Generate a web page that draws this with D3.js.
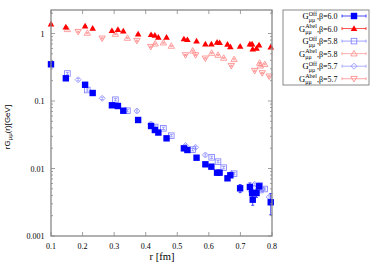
<!DOCTYPE html>
<html>
<head>
<meta charset="utf-8">
<script src="https://cdn.jsdelivr.net/npm/d3@7"></script>
<style>
  body { margin: 0; background: #fff; }
  svg text { font-family: "Liberation Serif", "DejaVu Serif", serif; }
</style>
</head>
<body>
<div id="chart"></div>
<script>
// beta = 6.0
const r60 = [0.1, 0.147, 0.208, 0.232, 0.293, 0.312, 0.329, 0.376, 0.417, 0.429, 0.440, 0.466,
  0.521, 0.532, 0.561, 0.589, 0.608, 0.626, 0.634, 0.659, 0.668, 0.699, 0.730, 0.737, 0.739,
  0.751, 0.759, 0.796];
const off60 = [0.350, 0.217, 0.174, 0.1314, 0.0864, 0.0843, 0.0718, 0.0523, 0.0426, 0.0372, 0.0341, 0.0280,
  0.0199, 0.0188, 0.01445, 0.01154, 0.01064, 0.00867, 0.00867, 0.00716, 0.00794, 0.00509, 0.00532, 0.00434, 0.00345,
  0.00434, 0.00545, 0.00316];
const offErr60 = [0.004, 0.003, 0.002, 0.0015, 0.001, 0.001, 0.0008, 0.0006, 0.0005, 0.0005, 0.0004, 0.0004,
  0.0003, 0.0003, 0.0003, 0.0003, 0.0003, 0.0003, 0.0003, 0.0003, 0.0003, 0.0007, 0.0008, 0.0006, 0.0006,
  0.0006, 0.0005, 0.0011];
const abel60 = [1.383, 1.248, 1.291, 1.194, 1.10, 1.14, 1.089, 0.983, 0.960, 0.940, 0.878, 0.878,
  0.83, 0.809, 0.774, 0.699, 0.699, 0.741, 0.731, 0.692, 0.637, 0.646, 0.699, 0.699, 0.589,
  0.604, 0.675, 0.631];

// beta = 5.8
const r58 = [0.152, 0.215, 0.304, 0.342, 0.430, 0.456, 0.481, 0.549, 0.609, 0.629, 0.647, 0.680, 0.761, 0.763, 0.777];
const off58 = [0.2555, 0.1455, 0.1045, 0.0718, 0.0412, 0.0394, 0.0306, 0.0190, 0.01466, 0.01262, 0.01028, 0.00837, 0.0056, 0.0048, 0.00497];
const abel58 = [1.154, 1.017, 0.983, 0.858, 0.706, 0.731, 0.653, 0.556, 0.514, 0.480, 0.434, 0.415, 0.366, 0.333, 0.350];

// beta = 5.7
const r57 = [0.186, 0.262, 0.372, 0.416, 0.526, 0.558, 0.589, 0.671, 0.745, 0.769, 0.791];
const off57 = [0.207, 0.1096, 0.0711, 0.0456, 0.0219, 0.0206, 0.01585, 0.00843, 0.00583, 0.00497, 0.00378];
const abel57 = [1.063, 0.849, 0.782, 0.637, 0.480, 0.480, 0.429, 0.333, 0.281, 0.260, 0.232];

const xTicks = [0.1, 0.2, 0.3, 0.4, 0.5, 0.6, 0.7, 0.8];
const yTicks = [0.001, 0.01, 0.1, 1];
const yTickLabels = ["0.001", "0.01", "0.1", "1"];

const legendNames = ["Off", "Abel", "Off", "Abel", "Off", "Abel"];
const legendBetas = ["6.0", "6.0", "5.8", "5.8", "5.7", "5.7"];

const width = 375, height = 263;
const margin = { top: 10, right: 103, bottom: 27, left: 51 };

const svg = d3.select("#chart").append("svg")
  .attr("width", width)
  .attr("height", height);

const x = d3.scaleLinear().domain([0.1, 0.8]).range([margin.left, width - margin.right]);
const y = d3.scaleLog().domain([0.001, 2.23]).range([height - margin.bottom, margin.top]);

const frameColor = "#888";

// series
const series = [
  { r: r60, v: off60, err: offErr60, color: "#0000ff", shape: "fsquare" },
  { r: r60, v: abel60, err: abel60.map(d => d * 0.02), color: "#ff0000", shape: "ftri" },
  { r: r58, v: off58, err: off58.map(d => d * 0.04), color: "#7a7aff", shape: "osquare" },
  { r: r58, v: abel58, err: abel58.map(d => d * 0.02), color: "#ff8a8a", shape: "otri" },
  { r: r57, v: off57, err: off57.map(d => d * 0.04), color: "#8c8cff", shape: "odiamond" },
  { r: r57, v: abel57, err: abel57.map(d => d * 0.02), color: "#ff8080", shape: "otridown" }
];

function marker(g, shape, color, cx, cy) {
  if (shape === "fsquare") {
    g.append("rect").attr("x", cx - 3.2).attr("y", cy - 3.2).attr("width", 6.4).attr("height", 6.4).attr("fill", color);
  } else if (shape === "osquare") {
    g.append("rect").attr("x", cx - 2.8).attr("y", cy - 2.8).attr("width", 5.6).attr("height", 5.6)
      .attr("fill", "none").attr("stroke", color).attr("stroke-width", 0.8);
  } else if (shape === "ftri") {
    g.append("path").attr("d", `M${cx},${cy - 3.3}L${cx + 3.3},${cy + 2.4}L${cx - 3.3},${cy + 2.4}Z`).attr("fill", color);
  } else if (shape === "otri") {
    g.append("path").attr("d", `M${cx},${cy - 3.2}L${cx + 3.2},${cy + 2.3}L${cx - 3.2},${cy + 2.3}Z`)
      .attr("fill", "none").attr("stroke", color).attr("stroke-width", 0.8);
  } else if (shape === "otridown") {
    g.append("path").attr("d", `M${cx},${cy + 3.2}L${cx + 3.2},${cy - 2.3}L${cx - 3.2},${cy - 2.3}Z`)
      .attr("fill", "none").attr("stroke", color).attr("stroke-width", 0.8);
  } else if (shape === "odiamond") {
    g.append("path").attr("d", `M${cx},${cy - 3}L${cx + 3},${cy}L${cx},${cy + 3}L${cx - 3},${cy}Z`)
      .attr("fill", "none").attr("stroke", color).attr("stroke-width", 0.8);
  }
}

// draw later series first so beta=6.0 ends on top
series.slice().reverse().forEach(s => {
  const g = svg.append("g");
  s.r.forEach((rv, i) => {
    const cx = x(rv), cy = y(s.v[i]);
    const y0 = y(Math.max(s.v[i] - s.err[i], 1e-4)), y1 = y(s.v[i] + s.err[i]);
    g.append("line").attr("x1", cx).attr("x2", cx).attr("y1", y0).attr("y2", y1)
      .attr("stroke", s.color).attr("stroke-width", 0.7);
    g.append("line").attr("x1", cx - 1.5).attr("x2", cx + 1.5).attr("y1", y0).attr("y2", y0)
      .attr("stroke", s.color).attr("stroke-width", 0.7);
    g.append("line").attr("x1", cx - 1.5).attr("x2", cx + 1.5).attr("y1", y1).attr("y2", y1)
      .attr("stroke", s.color).attr("stroke-width", 0.7);
    marker(g, s.shape, s.color, cx, cy);
  });
});

// axes (ticks inside, mirrored)
const x0 = margin.left, x1 = width - margin.right, yb = height - margin.bottom, yt = margin.top;

const minorY = [];
for (let e = -3; e < 1; e++) for (let k = 2; k <= 9; k++) {
  const v = k * Math.pow(10, e);
  if (v < 2.23) minorY.push(v);
}

const axisG = svg.append("g").attr("stroke", frameColor).attr("stroke-width", 0.8);
xTicks.forEach(t => {
  axisG.append("line").attr("x1", x(t)).attr("x2", x(t)).attr("y1", yb).attr("y2", yb - 4);
  axisG.append("line").attr("x1", x(t)).attr("x2", x(t)).attr("y1", yt).attr("y2", yt + 4);
});
yTicks.forEach(t => {
  axisG.append("line").attr("x1", x0).attr("x2", x0 + 4).attr("y1", y(t)).attr("y2", y(t));
  axisG.append("line").attr("x1", x1).attr("x2", x1 - 4).attr("y1", y(t)).attr("y2", y(t));
});
minorY.forEach(t => {
  axisG.append("line").attr("x1", x0).attr("x2", x0 + 2).attr("y1", y(t)).attr("y2", y(t));
  axisG.append("line").attr("x1", x1).attr("x2", x1 - 2).attr("y1", y(t)).attr("y2", y(t));
});
svg.append("rect").attr("x", x0).attr("y", yt).attr("width", x1 - x0).attr("height", yb - yt)
  .attr("fill", "none").attr("stroke", frameColor).attr("stroke-width", 1.3);

// tick labels
svg.append("g").selectAll("text").data(xTicks).join("text")
  .attr("x", d => x(d)).attr("y", yb + 12.5)
  .attr("text-anchor", "middle").attr("font-size", 8)
  .text(d => d3.format(".1f")(d));

svg.append("g").selectAll("text").data(yTicks).join("text")
  .attr("x", x0 - 6.5).attr("y", d => y(d) + 3)
  .attr("text-anchor", "end").attr("font-size", 8)
  .text((d, i) => yTickLabels[i]);

// axis titles
svg.append("text")
  .attr("x", (x0 + x1) / 2 + 0.5).attr("y", 260)
  .attr("text-anchor", "middle").attr("font-size", 10.5)
  .text("r [fm]");

const yl = svg.append("text")
  .attr("transform", `translate(10,127) rotate(-90)`)
  .attr("text-anchor", "middle").attr("font-size", 8)
  .style("font-family", "'Liberation Sans', Arial, sans-serif");
yl.append("tspan").text("rG");
yl.append("tspan").attr("font-size", 6).attr("dy", 2).text("μμ");
yl.append("tspan").attr("dy", -2).text("(r)[GeV]");

// legend
const lg = svg.append("g");
lg.append("rect").attr("x", 283).attr("y", 10).attr("width", 86).attr("height", 75)
  .attr("fill", "#fff").attr("stroke", frameColor).attr("stroke-width", 1);

legendNames.forEach((name, i) => {
  const s = series[i];
  const cy = 16 + i * 12.55;
  const row = lg.append("g");
  const tail = row.append("text").attr("x", 337.5).attr("y", cy + 3).attr("text-anchor", "end")
    .attr("font-size", 8).text(`,β=${legendBetas[i]}`);
  const tw = tail.node().getComputedTextLength();
  const sup = row.append("text").attr("x", 337.5 - tw).attr("y", cy - 0.5).attr("text-anchor", "end")
    .attr("font-size", 6).text(name);
  const sub = row.append("text").attr("x", 337.5 - tw).attr("y", cy + 5.5).attr("text-anchor", "end")
    .attr("font-size", 6).text("μμ");
  const sw = Math.max(sup.node().getComputedTextLength(), sub.node().getComputedTextLength());
  sub.attr("x", 337.5 - tw - sw + sub.node().getComputedTextLength()).attr("text-anchor", "end");
  row.append("text").attr("x", 337.5 - tw - sw).attr("y", cy + 3).attr("text-anchor", "end")
    .attr("font-size", 8.5).text("G");
  row.append("line").attr("x1", 342).attr("x2", 366).attr("y1", cy).attr("y2", cy)
    .attr("stroke", s.color).attr("stroke-width", 0.7);
  [342, 366].forEach(ex => row.append("line").attr("x1", ex).attr("x2", ex).attr("y1", cy - 1.5).attr("y2", cy + 1.5)
    .attr("stroke", s.color).attr("stroke-width", 0.7));
  marker(row, s.shape, s.color, 354, cy);
});
</script>
</body>
</html>
